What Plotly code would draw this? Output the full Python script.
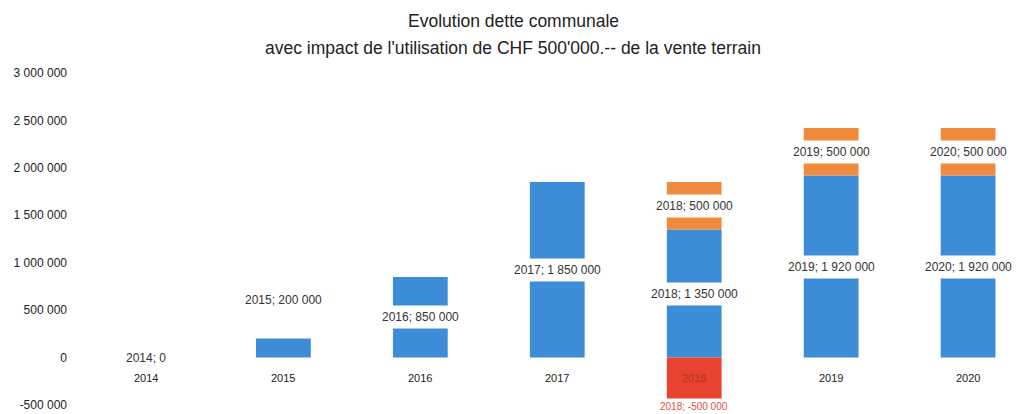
import plotly.graph_objects as go

years = ["2014", "2015", "2016", "2017", "2018", "2019", "2020"]
dette = [0, 200000, 850000, 1850000, 1350000, 1920000, 1920000]
impact = [None, None, None, None, 500000, 500000, 500000]
vente = [None, None, None, None, -500000, None, None]
tick_vals = [-500000, 0, 500000, 1000000, 1500000, 2000000, 2500000, 3000000]
tick_labels = ["-500 000", "0", "500 000", "1 000 000", "1 500 000", "2 000 000", "2 500 000", "3 000 000"]
title_1 = "Evolution dette communale"
title_2 = "avec impact de l'utilisation de CHF 500'000.-- de la vente terrain"

BLUE = "#3D8CD8"
ORANGE = "#F08A3C"
RED = "#E8432F"
FONT = "Liberation Sans"


def fmt(v):
    return f"{v:,}".replace(",", " ")


fig = go.Figure()
fig.add_trace(go.Bar(x=years, y=dette, marker=dict(color=BLUE, line_width=0), name="dette"))
fig.add_trace(go.Bar(x=years, y=impact, marker=dict(color=ORANGE, line_width=0), name="impact"))
fig.add_trace(go.Bar(x=years, y=vente, marker=dict(color=RED, line_width=0), name="vente"))

ann = []
for i, (y, v, neg) in enumerate(zip(years, dette, vente)):
    small = 0 < v < 400000
    ann.append(dict(x=i, y=v if small else v / 2, text=f"{y}; {fmt(v)}", showarrow=False,
                    yanchor="bottom" if small else "middle", yshift=27 if small else 0,
                    bgcolor="white", borderpad=4,
                    font=dict(size=12, color="#333333", family=FONT)))
    ann.append(dict(x=i, y=0, text=y, showarrow=False, yanchor="top", yshift=-12,
                    font=dict(size=11, color="#B5301E" if neg is not None else "#1a1a1a",
                              family=FONT)))
for i, (y, base, v) in enumerate(zip(years, dette, impact)):
    if v is not None:
        ann.append(dict(x=i, y=base + v / 2, text=f"{y}; {fmt(v)}", showarrow=False,
                        bgcolor="white", borderpad=4,
                        font=dict(size=12, color="#333333", family=FONT)))
for i, (y, v) in enumerate(zip(years, vente)):
    if v is not None:
        ann.append(dict(x=i, y=v, text=f"{y}; {fmt(v)}", showarrow=False, yanchor="middle",
                        yshift=-1, bgcolor="white", borderpad=2,
                        font=dict(size=10, color="#E0504A", family=FONT)))

ann.append(dict(xref="paper", yref="paper", x=0.464, y=1.194, text=title_1, showarrow=False,
                font=dict(size=17.5, color="#222222", family=FONT)))
ann.append(dict(xref="paper", yref="paper", x=0.464, y=1.111, text=title_2, showarrow=False,
                font=dict(size=17.5, color="#222222", family=FONT)))

fig.update_layout(
    width=1016, height=414,
    margin=dict(l=78, r=0, t=73, b=9, autoexpand=False),
    barmode="relative", bargap=0.6,
    plot_bgcolor="white", paper_bgcolor="white",
    showlegend=False,
    annotations=ann,
    xaxis=dict(type="category", range=[-0.5, 6.35], showticklabels=False,
               showgrid=False, zeroline=False, showline=False, ticks="", automargin=False),
    yaxis=dict(range=[-500000, 3000000], tickvals=tick_vals, ticktext=tick_labels,
               showgrid=False, zeroline=False, showline=False, ticks="", automargin=False,
               ticklabelstandoff=10,
               tickfont=dict(size=12, color="#222222", family=FONT)),
)

fig.write_html("out.html", config={"displayModeBar": False},
               post_script="document.body.style.margin='0';")
